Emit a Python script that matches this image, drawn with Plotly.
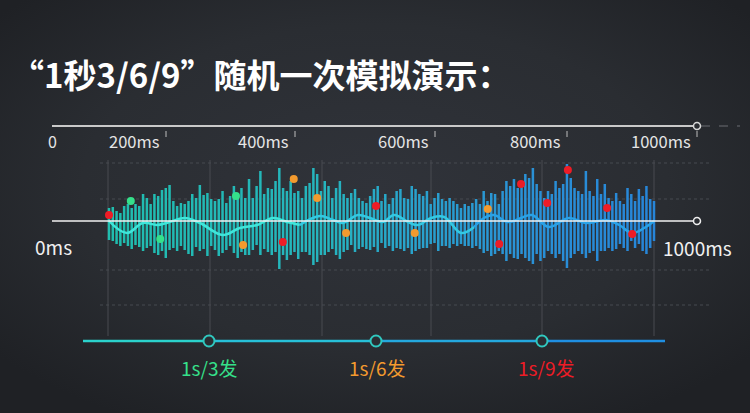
import base64
import plotly.graph_objects as go

# ---------------- data ----------------
title_text = "“1秒3/6/9”随机一次模拟演示："
top_tick_labels = ["0", "200ms", "400ms", "600ms", "800ms", "1000ms"]
axis_start_label = "0ms"
axis_end_label = "1000ms"
rate_labels = ["1s/3发", "1s/6发", "1s/9发"]

# waveform bars: height above / below the centre line, left to right (0 -> 1000 ms)
bar_up = [13, 14, 10, 8, 15, 17, 13, 17, 15, 27, 23, 17, 27, 25, 31, 33, 36, 20, 15, 18,
          17, 20, 27, 23, 36, 26, 28, 22, 20, 22, 30, 18, 25, 35, 23,
          33, 23, 42, 23, 35, 50, 27, 33, 32, 40, 53, 33, 30, 40, 28, 30, 23, 35, 38, 53,
          47, 30, 40, 35, 23, 33, 40, 27, 23, 28, 32, 23, 20, 18, 25, 32, 35,
          20, 27, 17, 23, 30, 32, 23, 22, 35, 32, 27, 25, 30, 17, 23, 28, 22, 20, 23, 20,
          17, 13, 17, 15, 18, 22, 17, 30, 20, 28, 27, 17, 30, 40, 35, 42, 33,
          37, 47, 43, 53, 37, 30, 23, 30, 27, 40, 33, 37, 57, 43, 33, 30, 27, 50, 30, 25,
          42, 27, 37, 23, 20, 28, 20, 17, 33, 27, 20, 32, 25, 35, 22, 20]
bar_down = [19, 20, 23, 25, 22, 25, 28, 24, 26, 30, 27, 25, 32, 34, 30, 37, 29, 27, 30, 25,
            29, 33, 35, 26, 30, 28, 35, 25, 29, 35, 32, 29, 25, 32, 37,
            31, 34, 34, 29, 24, 34, 28, 31, 34, 31, 48, 34, 39, 34, 31, 38, 31, 31, 34, 44,
            41, 34, 34, 31, 28, 34, 38, 31, 29, 24, 31, 28, 26, 28, 29, 26, 31,
            22, 27, 25, 30, 27, 28, 30, 27, 33, 30, 28, 27, 27, 23, 22, 30, 25, 25, 27, 23,
            25, 23, 25, 25, 27, 25, 28, 32, 30, 35, 33, 30, 33, 40, 33, 37, 38,
            33, 37, 40, 43, 33, 40, 37, 30, 33, 37, 33, 40, 47, 37, 33, 30, 33, 37, 32, 30,
            40, 30, 30, 27, 30, 28, 23, 27, 30, 20, 27, 23, 30, 33, 27, 20]

# smooth wave (ms, offset)
wave_t = [0, 33, 62, 88, 106, 139, 167, 209, 240, 272, 301, 327, 350, 387, 411, 429, 457,
          479, 503, 523, 549, 567, 591, 615, 646, 670, 688, 706, 732, 756, 776, 807, 844,
          875, 912, 936, 960, 985, 1000]
wave_y = [0, -12, -2, -4, -2, 3, -2, -14, -7, -4, 3, -1, -4, 5, 1, -2, 6, 3, -1, 6, -1,
          -4, 3, 4, -12, -6, 3, 6, -1, 3, 6, -6, 3, -2, 1, -4, -12, -6, 0]

# shots: 1s/3 (green), 1s/6 (orange), 1s/9 (red)
green_t = [40, 94, 233]
green_y = [20, -18, 25]
orange_t = [246, 339, 382, 435, 561, 695]
orange_y = [-24, 42, 23, -12, -12, 12]
red_t = [0, 319, 490, 716, 756, 804, 842, 914, 960]
red_y = [6, -21, 15, -23, 37, 18, 51, 13, -13]

# ---------------- styling helpers ----------------
W, H = 750, 413
BG = "#2a2d32"
FONT = "Noto Sans CJK SC"
GREEN, ORANGE, RED = "#35e08a", "#f39a2e", "#ee1c26"


def PX(x):
    return x / W


def PY(y):
    return 1 - y / H


svg = ('<svg xmlns="http://www.w3.org/2000/svg" width="750" height="413">'
       '<defs><radialGradient id="g" cx="50%" cy="45%" r="65%">'
       '<stop offset="0" stop-color="#30333a"/><stop offset="0.6" stop-color="#2a2d32"/>'
       '<stop offset="1" stop-color="#1f2125"/></radialGradient></defs>'
       '<rect width="750" height="413" fill="url(#g)"/></svg>')
bg_src = "data:image/svg+xml;base64," + base64.b64encode(svg.encode()).decode()

n = len(bar_up)
bar_t = [i * 1000 / (n - 1) for i in range(n)]

fig = go.Figure()

fig.add_trace(go.Bar(
    x=bar_t, y=[u + d for u, d in zip(bar_up, bar_down)], base=[-d for d in bar_down],
    width=4.6,
    marker=dict(color=bar_t, cmin=0, cmax=1000, line=dict(width=0),
                colorscale=[[0, "#20bdae"], [0.4, "#26b4be"], [0.55, "#29a3cc"],
                            [0.75, "#2a92d6"], [1, "#2785d8"]]),
    hoverinfo="skip", showlegend=False))

segs = [(0, 13, "#3fe6da"), (12, 26, "#33c9e2"), (25, len(wave_t), "#2aa2e6")]
for a, b, c in segs:
    fig.add_trace(go.Scatter(x=wave_t[a:b], y=wave_y[a:b], mode="lines",
                             line=dict(color=c, width=2.5, shape="spline", smoothing=1.1),
                             hoverinfo="skip", showlegend=False))

for tt, yy, c in [(green_t, green_y, GREEN), (orange_t, orange_y, ORANGE), (red_t, red_y, RED)]:
    fig.add_trace(go.Scatter(x=tt, y=yy, mode="markers",
                             marker=dict(color=c, size=8, line=dict(width=0)),
                             hoverinfo="skip", showlegend=False))

shapes = []
for gy in [163, 199, 270, 305]:
    shapes.append(dict(type="line", xref="paper", yref="paper", x0=PX(100), x1=PX(712),
                       y0=PY(gy), y1=PY(gy), layer="below",
                       line=dict(color="#474a50", width=1, dash="dot")))
for gx in [108, 210, 322, 431, 542, 654]:
    shapes.append(dict(type="line", xref="paper", yref="paper", x0=PX(gx), x1=PX(gx),
                       y0=PY(160), y1=PY(336), layer="below",
                       line=dict(color="#484b51", width=1)))
shapes.append(dict(type="line", xref="paper", yref="paper", x0=PX(52), x1=PX(693),
                   y0=PY(126), y1=PY(126), line=dict(color="#c9c9c9", width=2)))
shapes.append(dict(type="line", xref="paper", yref="paper", x0=PX(701), x1=PX(740),
                   y0=PY(126), y1=PY(126), line=dict(color="#6a6d72", width=1, dash="dash")))
shapes.append(dict(type="circle", xref="paper", yref="paper", x0=PX(693.5), x1=PX(700.5),
                   y0=PY(122.5), y1=PY(129.5), fillcolor=BG, line=dict(color="#d8d8d8", width=1.5)))
for tx in [166, 295, 435, 567, 697]:
    shapes.append(dict(type="line", xref="paper", yref="paper", x0=PX(tx), x1=PX(tx),
                       y0=PY(131), y1=PY(137), line=dict(color="#bdbdbd", width=1)))
shapes.append(dict(type="line", xref="paper", yref="paper", x0=PX(52), x1=PX(693),
                   y0=PY(221), y1=PY(221), line=dict(color="#f2f2f2", width=1.5), layer="above"))
shapes.append(dict(type="circle", xref="paper", yref="paper", x0=PX(693.5), x1=PX(700.5),
                   y0=PY(217.5), y1=PY(224.5), fillcolor=BG, line=dict(color="#eeeeee", width=1.5)))
bl = [(83, 204, "#2bd2cc"), (214, 371, "#27c0d8"), (381, 537, "#24a8de"), (547, 665, "#1f8fe2")]
for x0, x1, c in bl:
    shapes.append(dict(type="line", xref="paper", yref="paper", x0=PX(x0), x1=PX(x1),
                       y0=PY(341), y1=PY(341), line=dict(color=c, width=2.5)))
for cx in [209, 376, 542]:
    shapes.append(dict(type="circle", xref="paper", yref="paper", x0=PX(cx - 5.5), x1=PX(cx + 5.5),
                       y0=PY(335.5), y1=PY(346.5), fillcolor=BG, line=dict(color="#30c8bf", width=2)))

ann = []
ann.append(dict(text="<b>" + title_text + "</b>", x=PX(9), y=PY(74), xref="paper", yref="paper",
                xanchor="left", yanchor="middle", showarrow=False,
                font=dict(family=FONT, size=33, color="#ffffff")))
ann.append(dict(text=top_tick_labels[0], x=PX(52), y=PY(141), xref="paper", yref="paper",
                xanchor="center", yanchor="middle", showarrow=False,
                font=dict(family=FONT, size=16, color="#e6e6e6")))
for lab, tx in zip(top_tick_labels[1:], [166, 295, 435, 567, 697]):
    ann.append(dict(text=lab, x=PX(tx - 4), y=PY(141), xref="paper", yref="paper",
                    xanchor="right", yanchor="middle", showarrow=False,
                    font=dict(family=FONT, size=16.5, color="#e6e6e6")))
ann.append(dict(text=axis_start_label, x=PX(53), y=PY(246), xref="paper", yref="paper",
                xanchor="center", yanchor="middle", showarrow=False,
                font=dict(family=FONT, size=19, color="#f0f0f0")))
ann.append(dict(text=axis_end_label, x=PX(697), y=PY(247), xref="paper", yref="paper",
                xanchor="center", yanchor="middle", showarrow=False,
                font=dict(family=FONT, size=19, color="#f0f0f0")))
for lab, cx, c in zip(rate_labels, [209, 377, 546], [GREEN, ORANGE, RED]):
    ann.append(dict(text=lab, x=PX(cx), y=PY(367), xref="paper", yref="paper",
                    xanchor="center", yanchor="middle", showarrow=False,
                    font=dict(family=FONT, size=19, color=c)))

fig.update_layout(
    width=W, height=H, margin=dict(l=0, r=0, t=0, b=0),
    paper_bgcolor=BG, plot_bgcolor="rgba(0,0,0,0)",
    xaxis=dict(range=[-200, 1176.15], visible=False, fixedrange=True),
    yaxis=dict(range=[-192, 221], visible=False, fixedrange=True),
    images=[dict(source=bg_src, xref="paper", yref="paper", x=0, y=1, sizex=1, sizey=1,
                 xanchor="left", yanchor="top", sizing="stretch", layer="below")],
    shapes=shapes, annotations=ann, barmode="overlay", showlegend=False,
)

fig.write_html("out.html", config={"displayModeBar": False},
               post_script="document.body.style.margin='0';document.body.style.background='#2a2d32';")
